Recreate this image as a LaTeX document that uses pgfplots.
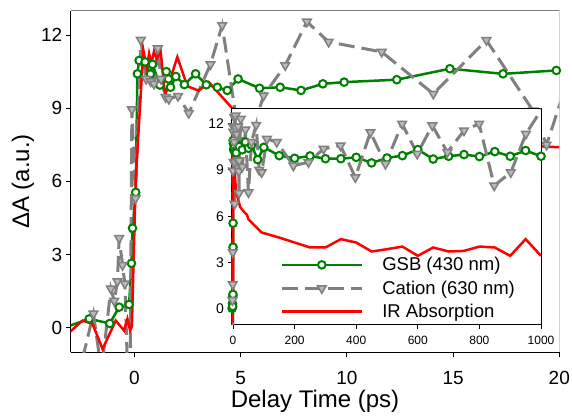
\documentclass[border=0pt]{standalone}
\usepackage{fontspec}
\setmainfont{Liberation Sans}
\usepackage{pgfplots}
\pgfplotsset{compat=1.18}
\usepackage{pgfplotstable}

\definecolor{gsb}{RGB}{0,128,0}
\definecolor{cat}{RGB}{128,128,128}
\definecolor{irr}{RGB}{255,0,0}

\pgfplotsset{
  gsbstyle/.style={gsb, line width=2.5pt, mark=*, mark size=3.8pt,
    mark options={solid, fill=white, draw=gsb, line width=2pt}},
  catstyle/.style={cat, line width=3pt, dash pattern=on 16pt off 7pt, mark=triangle*, mark size=5pt,
    mark options={solid, rotate=180, fill=cat!55, draw=cat, line width=1.5pt}},
  irstyle/.style={irr, line width=2.5pt, no marks},
}

% main axis data (delay time in ps)
\pgfplotstableread{
t v
-3.3 0.0
-2.13 0.36
-1.16 0.17
-0.72 0.84
-0.25 0.95
-0.14 2.64
-0.09 4.08
0.06 5.55
0.14 10.41
0.22 10.96
0.5 10.9
0.75 10.4
0.85 10.8
1.2 9.95
1.5 10.5
1.6 10.2
1.7 9.86
1.95 10.3
2.35 9.97
2.88 10.41
3.38 9.96
3.9 9.86
4.37 9.73
4.88 10.2
5.89 9.82
6.86 9.86
7.84 9.73
8.87 10.0
9.87 10.07
12.35 10.17
14.85 10.62
17.35 10.41
19.86 10.55
}\gsbmain

\pgfplotstableread{
t v
-2.7 -2.2
-1.93 0.57
-1.55 -1.8
-1.11 1.6
-0.95 1.1
-0.8 1.9
-0.72 3.67
-0.56 2.56
-0.45 1.8
-0.33 -1.6
-0.2 -1.6
-0.12 8.95
0.05 5.3
0.3 11.8
0.55 10.2
0.77 10.1
0.92 10.0
1.1 11.45
1.25 10.2
1.47 9.45
1.62 9.38
2.05 9.5
2.56 8.8
3.58 10.8
4.13 12.4
5.1 6.8
6.08 9.52
7.1 10.76
8.12 12.55
9.14 11.72
11.64 11.31
14.07 9.59
16.57 11.79
18.76 8.9
19.4 7.5
20.3 9.9
}\catmain

\pgfplotstableread{
t v
-3.2 -0.3
-2.44 0.29
-1.97 0.15
-1.5 -0.88
-0.88 0.29
-0.49 -0.12
-0.33 0.36
-0.2 -0.12
-0.12 0.05
0.06 6.07
0.42 11.38
0.58 10.62
0.69 11.24
0.8 10.83
0.92 11.33
1.05 11.03
1.23 11.38
1.44 9.52
2.02 11.1
2.49 9.9
3.03 9.72
3.5 10.07
4.6 9.0
7 8.4
10 8.0
15 7.6
20 7.4
}\irmain

% inset data (delay time in ps, up to 1000 ps)
\pgfplotstableread{
t v
-3 0.05
-2.1 0.36
-1.2 0.17
-0.7 0.84
-0.25 0.95
-0.1 4.0
0.06 5.55
0.2 10.9
1 10.7
2 10.3
3 10.4
5 10.2
10 10.1
15 10.6
20 10.5
30 10.3
40 10.8
50 10.4
60 10.6
80 9.66
100 10.46
150 9.92
200 9.75
250 9.9
300 9.72
350 9.72
400 9.81
450 9.45
500 9.77
550 9.92
600 10.31
650 9.7
700 9.88
750 9.99
800 9.86
850 10.18
900 9.88
950 10.25
1000 9.88
}\gsbins

\pgfplotstableread{
t v
-3 -2
-1.9 0.57
-1.5 -1.8
-1.1 1.6
-0.7 3.67
-0.3 -1.6
-0.12 8.95
0.3 11.8
1.1 11.45
2 9.5
3.6 10.8
4.1 12.4
5.1 6.8
6 9.5
8.1 12.5
9.1 11.7
11.6 11.3
14 9.6
16.6 11.8
18.8 8.9
19.4 7.5
20 9.6
25 12.3
30 9.2
40 11.6
50 7.54
60 10.8
75 11.9
85 9.0
93 8.84
110 11.0
142 10.8
196 9.27
245 9.49
294 10.36
349 10.57
397 8.52
446 11.43
495 9.38
549 11.98
598 10.03
647 11.87
696 10.14
750 11.54
799 11.98
848 7.98
902 8.84
951 11.33
1005 13.0
}\catins

\pgfplotstableread{
t v
-3 -0.25
-2.4 0.29
-2 0.15
-1.5 -0.88
-0.9 0.29
-0.5 -0.12
-0.2 -0.12
0.4 11.38
1.2 11.38
2 11.1
3 9.7
4.6 9.0
10 7.6
23 6.6
35 6.3
45 6.1
50 5.8
75 5.3
93 4.95
150 4.62
200 4.3
250 3.98
300 3.98
350 4.52
400 4.3
450 3.72
500 3.87
550 4.04
600 3.44
650 3.98
700 3.72
750 3.76
800 4.04
850 3.98
900 3.44
950 4.52
1000 3.44
}\irins

\begin{document}
\begin{tikzpicture}
\path[use as bounding box] (0,0) rectangle (572pt,416pt);

\begin{axis}[
  at={(70.7pt,64pt)}, anchor=south west, scale only axis,
  width=488.6pt, height=341.3pt,
  xmin=-3, xmax=20, ymin=-1, ymax=13,
  axis x line*=bottom, axis y line*=left,
  axis line style={-, black, line width=0.8pt},
  xtick={0,5,10,15,20}, ytick={0,3,6,9,12},
  tick align=outside, major tick length=5pt,
  tick style={black, line width=0.8pt},
  /pgf/number format/assume math mode=true,
  ticklabel style={font=\fontsize{19}{22}\selectfont},
  xticklabel style={yshift=-11pt},
  xlabel={Delay Time (ps)}, ylabel={ΔA (a.u.)},
  label style={font=\fontsize{24}{28}\selectfont},
  xlabel style={yshift=1.5pt},
]
\addplot[gsbstyle] table[x=t,y=v] {\gsbmain};
\addplot[catstyle] table[x=t,y=v] {\catmain};
\addplot[irstyle] table[x=t,y=v] {\irmain};
\draw[cat, line width=0.8pt] (rel axis cs:0,1) -- (rel axis cs:1,1) -- (rel axis cs:1,0);
\end{axis}

\begin{axis}[
  at={(231.5pt,91.5pt)}, anchor=south west, scale only axis,
  width=309.5pt, height=216.5pt,
  xmin=-5, xmax=1000, ymin=-1, ymax=13,
  axis background/.style={fill=white},
  axis line style={black, line width=0.8pt},
  xtick={0,200,400,600,800,1000}, ytick={0,3,6,9,12},
  tick pos=left, tick align=outside, major tick length=4pt,
  tick style={black, line width=0.8pt},
  /pgf/number format/assume math mode=true,
  /pgf/number format/1000 sep={},
  xticklabel style={font=\fontsize{12}{14}\selectfont, yshift=-4pt},
  yticklabel style={font=\fontsize{14}{16}\selectfont},
  legend cell align=left,
  legend style={at={(0.157,0.32)}, anchor=north west, draw=none, fill=none,
    font=\fontsize{18.5}{22}\selectfont, inner sep=0pt, row sep=4.5pt,
    /tikz/every odd column/.append style={column sep=17pt}},
  legend image code/.code={\draw[mark repeat=2,mark phase=2,#1] plot coordinates {(0pt,0pt) (40pt,0pt) (80pt,0pt)};},
]
\addplot[gsbstyle] table[x=t,y=v] {\gsbins};
\addplot[catstyle] table[x=t,y=v] {\catins};
\addplot[irstyle] table[x=t,y=v] {\irins};
\legend{GSB (430 nm), Cation (630 nm), IR Absorption}
\end{axis}
\end{tikzpicture}
\end{document}
